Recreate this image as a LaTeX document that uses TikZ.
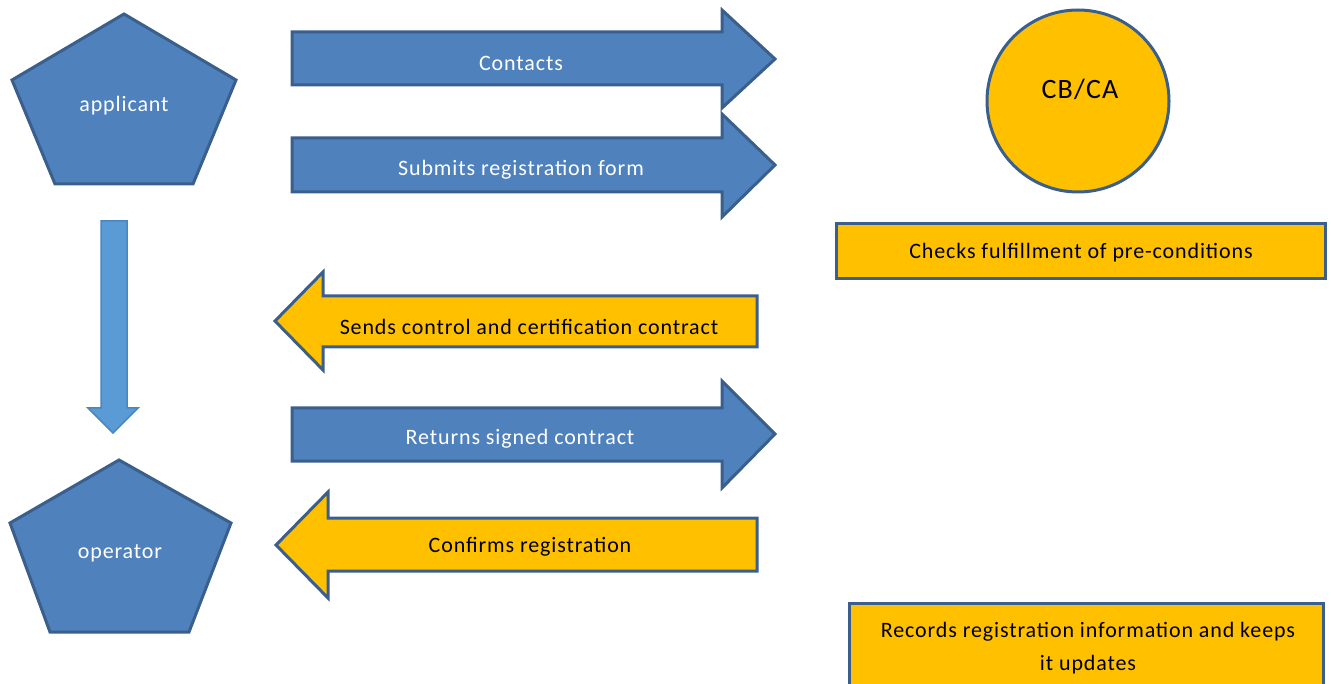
\documentclass[tikz,border=0pt]{standalone}
\usepackage{fontspec}
\setmainfont{Carlito}[LetterSpace=4]
\begin{document}
\begin{tikzpicture}[x=1pt,y=-1pt,
  bluefill/.style={fill=blueF,draw=blueD,line width=3pt,line join=miter},
  yelfill/.style={fill=yelF,draw=blueD,line width=3pt,line join=miter},
  lightarrow/.style={fill=lightF,draw=lightD,line width=1.5pt},
  wtext/.style={text=white,font=\fontsize{22}{26}\selectfont},
  btext/.style={text=black,font=\fontsize{22}{26}\selectfont}]
\definecolor{blueF}{HTML}{4F81BD}
\definecolor{blueD}{HTML}{3A5F8C}
\definecolor{yelF}{HTML}{FFC000}
\definecolor{lightF}{HTML}{5B9BD5}
\definecolor{lightD}{HTML}{4A87BF}
\clip (0,0) rectangle (1331,684);
\useasboundingbox (0,0) rectangle (1331,684);
% applicant pentagon
\draw[bluefill] (124,14) -- (236,80) -- (193,184) -- (55,184) -- (12,80) -- cycle;
\node[wtext] (applicant) at (124,106) {applicant};
% operator pentagon
\draw[bluefill] (119,460) -- (231,523) -- (189,632) -- (50,632) -- (10,523) -- cycle;
\node[wtext] (operator) at (120,553) {operator};
% down arrow
\draw[lightarrow] (101,221) -- (127,221) -- (127,408) -- (138,408) -- (113,433) -- (88,408) -- (101,408) -- cycle;
% Contacts arrow
\draw[bluefill] (292,32) -- (722,32) -- (722,10) -- (775,59) -- (722,108) -- (722,85) -- (292,85) -- cycle;
\node[wtext] (contacts) at (521,63) {Contacts};
% Submits arrow
\draw[bluefill] (292,138) -- (722,138) -- (722,114) -- (775,165) -- (722,217) -- (722,192) -- (292,192) -- cycle;
\node[wtext] (submits) at (521,170) {Submits registration form};
% Sends arrow
\draw[yelfill] (757,296) -- (323,296) -- (323,272) -- (275,321) -- (323,370) -- (323,347) -- (757,347) -- cycle;
\node[btext] (sends) at (529,327) {Sends control and certification contract};
% Returns arrow
\draw[bluefill] (292,408) -- (722,408) -- (722,381) -- (775,434) -- (722,488) -- (722,461) -- (292,461) -- cycle;
\node[wtext] (returns) at (520,439) {Returns signed contract};
% Confirms arrow
\draw[yelfill] (757,518) -- (328,518) -- (328,492) -- (276,545) -- (328,598) -- (328,571) -- (757,571) -- cycle;
\node[btext] (confirms) at (530,547) {Confirms registration};
% CB/CA circle
\draw[yelfill] (1078,101) circle (91);
\node[btext,font=\fontsize{28}{32}\selectfont] (cbca) at (1080,89) {CB/CA};
% Checks box
\draw[yelfill] (836,224) rectangle (1325,279);
\node[btext] (checks) at (1081,253) {Checks fulfillment of pre-conditions};
% Records box
\draw[yelfill] (849,603) rectangle (1323,700);
\node[btext,align=center,font=\fontsize{22}{33}\selectfont] (records) at (1088,648) {Records registration information and keeps\\it updates};
\end{tikzpicture}
\end{document}
